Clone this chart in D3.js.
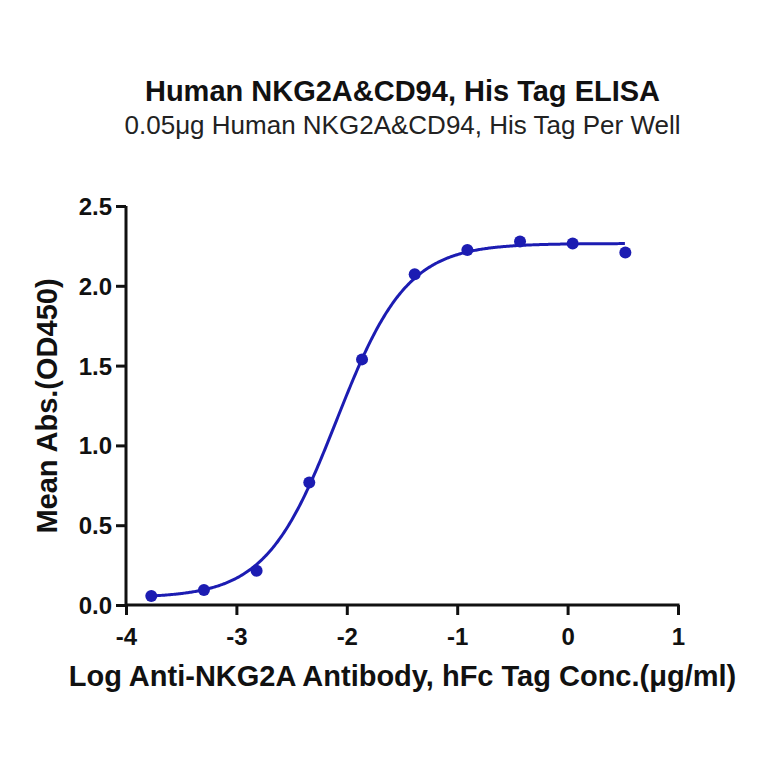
<!DOCTYPE html>
<html><head><meta charset="utf-8">
<script src="https://cdn.jsdelivr.net/npm/d3@7"></script>
<style>body{margin:0;background:#fff}svg{display:block}</style>
</head><body>
<script>
// Data
const logConc = [-3.771, -3.294, -2.817, -2.340, -1.862, -1.385, -0.908, -0.431, 0.046, 0.523];
const meanAbs = [0.057, 0.094, 0.215, 0.768, 1.539, 2.073, 2.224, 2.278, 2.265, 2.209];
// 4PL fit parameters (estimated from the fitted curve in the picture)
const fitBottom = 0.045, fitTop = 2.265, fitLogEC50 = -2.094, fitHill = 1.36;
const xTicks = [-4, -3, -2, -1, 0, 1];
const yTicks = [0, 0.5, 1.0, 1.5, 2.0, 2.5];
const title = "Human NKG2A&CD94, His Tag ELISA";
const subtitle = "0.05μg Human NKG2A&CD94, His Tag Per Well";
const xLabel = "Log Anti-NKG2A Antibody, hFc Tag Conc.(μg/ml)";
const yLabel = "Mean Abs.(OD450)";

const W = 764, H = 764;
const color = "#1c1cb2";
const FONT = "'Liberation Sans', Arial, sans-serif";
const svg = d3.select("body").append("svg").attr("width", W).attr("height", H)
  .style("font-family", FONT);

const x = d3.scaleLinear().domain([-4, 1]).range([126, 678]);
const y = d3.scaleLinear().domain([0, 2.5]).range([605, 206]);

svg.append("text").attr("x", 402.5).attr("y", 101).attr("text-anchor", "middle")
  .attr("font-size", 29).attr("font-weight", "bold").attr("fill", "#111").text(title);
svg.append("text").attr("x", 402.5).attr("y", 134).attr("text-anchor", "middle")
  .attr("font-size", 26).attr("fill", "#222").text(subtitle);

const xAxis = svg.append("g").attr("transform", "translate(0,605)")
  .call(d3.axisBottom(x).tickValues(xTicks).tickSize(10).tickSizeOuter(0).tickFormat(d => String(d)));
const yAxis = svg.append("g").attr("transform", "translate(126,0)")
  .call(d3.axisLeft(y).tickValues(yTicks).tickSize(10).tickSizeOuter(0).tickFormat(d3.format(".1f")));
[xAxis, yAxis].forEach(g => {
  g.select(".domain").attr("stroke", "#111").attr("stroke-width", 3);
  g.selectAll(".tick line").attr("stroke", "#111").attr("stroke-width", 3);
  g.selectAll(".tick text").attr("fill", "#111").attr("font-size", 24).attr("font-weight", "bold")
   .attr("font-family", FONT);
});
xAxis.select(".domain").attr("d", "M" + x(-4) + ",0H" + (x(1) + 1.5));
yAxis.select(".domain").attr("d", "M0," + (y(0) + 1.5) + "V" + y(2.5));
xAxis.selectAll(".tick text").attr("y", 40).attr("dy", 0);
yAxis.selectAll(".tick text").attr("x", -14).attr("dy", "0.35em");

svg.append("text").attr("x", 402.5).attr("y", 686).attr("text-anchor", "middle")
  .attr("font-size", 29).attr("font-weight", "bold").attr("fill", "#111").text(xLabel);
svg.append("text").attr("transform", "translate(57,406) rotate(-90)").attr("text-anchor", "middle")
  .attr("font-size", 29).attr("font-weight", "bold").attr("fill", "#111").text(yLabel);

const fit = v => fitBottom + (fitTop - fitBottom) / (1 + Math.pow(10, (fitLogEC50 - v) * fitHill));
const xs = d3.range(logConc[0], logConc[logConc.length - 1] + 0.001, 0.01);
svg.append("path").datum(xs)
  .attr("d", d3.line().x(v => x(v)).y(v => y(fit(v))))
  .attr("fill", "none").attr("stroke", color).attr("stroke-width", 3);

svg.append("g").selectAll("circle").data(logConc).join("circle")
  .attr("cx", d => x(d)).attr("cy", (d, i) => y(meanAbs[i])).attr("r", 6).attr("fill", color);
</script>
</body></html>
